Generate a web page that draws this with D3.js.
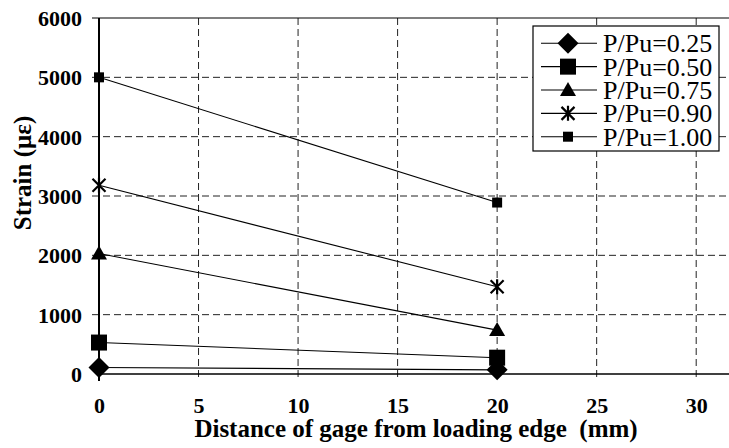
<!DOCTYPE html>
<html>
<head>
<meta charset="utf-8">
<script src="https://cdn.jsdelivr.net/npm/d3@7"></script>
<style>
  html, body { margin: 0; padding: 0; background: #fff; }
  svg { display: block; }
  svg text { font-family: "Liberation Serif", "Times New Roman", serif !important; }
</style>
</head>
<body>
<svg id="chart" width="729" height="448"></svg>
<script>
// Gage distances (mm) and measured strains (microstrain) per load ratio
const distances = [0, 20];
const labels = ["P/Pu=0.25", "P/Pu=0.50", "P/Pu=0.75", "P/Pu=0.90", "P/Pu=1.00"];
const strain025 = [110, 70];
const strain050 = [530, 275];
const strain075 = [2030, 740];
const strain090 = [3180, 1470];
const strain100 = [5000, 2890];
const markerTypes = ["diamond", "square", "triangle", "star", "smallSquare"];
const xTicks = [0, 5, 10, 15, 20, 25, 30];
const yTicks = [0, 1000, 2000, 3000, 4000, 5000, 6000];

const FONT = "Liberation Serif";

const seriesValues = [strain025, strain050, strain075, strain090, strain100];
const series = labels.map((name, i) => ({
  name,
  marker: markerTypes[i],
  points: distances.map((d, j) => ({ x: d, y: seriesValues[i][j] }))
}));

const svg = d3.select("#chart").attr("font-family", FONT);
const plot = { left: 99, top: 18, right: 736, bottom: 374 };

const x = d3.scaleLinear().domain([0, 32]).range([plot.left, plot.right]);
const y = d3.scaleLinear().domain([0, 6000]).range([plot.bottom, plot.top]);

function serif(sel) {
  return sel.attr("font-family", FONT).style("font-family", FONT, "important");
}

// Dashed grid with outside tick extensions
const grid = svg.append("g");
grid.selectAll("line.v").data(xTicks.filter(t => t > 0)).join("line")
  .attr("x1", d => x(d)).attr("x2", d => x(d))
  .attr("y1", plot.top).attr("y2", plot.bottom + 7)
  .attr("stroke", "#222").attr("stroke-width", 1)
  .attr("stroke-dasharray", "7,4");
grid.selectAll("line.h").data(yTicks.filter(t => t > 0 && t < 6000)).join("line")
  .attr("x1", plot.left - 7).attr("x2", 729)
  .attr("y1", d => y(d)).attr("y2", d => y(d))
  .attr("stroke", "#222").attr("stroke-width", 1)
  .attr("stroke-dasharray", "7,4");

// Top border (solid)
svg.append("line")
  .attr("x1", plot.left - 7).attr("x2", 729)
  .attr("y1", y(6000)).attr("y2", y(6000))
  .attr("stroke", "#000").attr("stroke-width", 1.2);

// Axes
const xAxis = d3.axisBottom(x).tickValues(xTicks).tickFormat(d3.format("d")).tickSize(0).tickPadding(0);
const yAxis = d3.axisLeft(y).tickValues(yTicks).tickFormat(d3.format("d")).tickSize(0).tickPadding(0);

const gx = svg.append("g").attr("transform", `translate(0,${plot.bottom})`).call(xAxis)
  .attr("font-family", FONT).attr("font-size", 22);
gx.select(".domain").remove();
serif(gx.selectAll("text"))
  .attr("y", 39).attr("dy", 0)
  .attr("font-size", 22).attr("font-weight", "bold").attr("fill", "#000");

const gy = svg.append("g").attr("transform", `translate(${plot.left},0)`).call(yAxis)
  .attr("font-family", FONT).attr("font-size", 22);
gy.select(".domain").remove();
serif(gy.selectAll("text"))
  .attr("x", -17).attr("dy", "0.34em")
  .attr("font-size", 22).attr("font-weight", "bold").attr("fill", "#000");

// Axis lines
svg.append("line")
  .attr("x1", plot.left).attr("x2", 729)
  .attr("y1", plot.bottom).attr("y2", plot.bottom)
  .attr("stroke", "#000").attr("stroke-width", 1.5);
svg.append("line")
  .attr("x1", plot.left).attr("x2", plot.left)
  .attr("y1", plot.top).attr("y2", plot.bottom + 7)
  .attr("stroke", "#000").attr("stroke-width", 2);

// Axis titles
serif(svg.append("text"))
  .attr("x", 416).attr("y", 437)
  .attr("text-anchor", "middle")
  .attr("font-size", 25).attr("font-weight", "bold")
  .text("Distance of gage from loading edge\u00a0 (mm)");

serif(svg.append("text"))
  .attr("transform", "translate(31,173) rotate(-90)")
  .attr("text-anchor", "middle")
  .attr("font-size", 25).attr("font-weight", "bold")
  .text("Strain (με)");

// Marker drawing
function drawMarker(g, type) {
  switch (type) {
    case "diamond":
      g.append("path").attr("d", "M0,-10.5L10.5,0L0,10.5L-10.5,0Z").attr("fill", "#000");
      break;
    case "square":
      g.append("rect").attr("x", -8).attr("y", -8).attr("width", 16).attr("height", 16).attr("fill", "#000");
      break;
    case "triangle":
      g.append("path").attr("d", "M0,-8L8,6L-8,6Z").attr("fill", "#000");
      break;
    case "star":
      g.append("path").attr("d", "M-6.5,-6.5L6.5,6.5M-6.5,6.5L6.5,-6.5M0,-7.5L0,7.5")
        .attr("stroke", "#000").attr("stroke-width", 2.2).attr("fill", "none");
      break;
    case "smallSquare":
      g.append("rect").attr("x", -5).attr("y", -5).attr("width", 10).attr("height", 10).attr("fill", "#000");
      break;
  }
}

const line = d3.line().x(d => x(d.x)).y(d => y(d.y));

const seriesG = svg.append("g");
seriesG.selectAll("path.series").data(series).join("path")
  .attr("d", d => line(d.points))
  .attr("fill", "none").attr("stroke", "#000").attr("stroke-width", 1.1);

series.forEach(s => {
  s.points.forEach(p => {
    const g = seriesG.append("g").attr("transform", `translate(${x(p.x)},${y(p.y)})`);
    drawMarker(g, s.marker);
  });
});

// Legend
const legend = svg.append("g");
legend.append("rect")
  .attr("x", 533).attr("y", 26).attr("width", 186).attr("height", 125)
  .attr("fill", "#fff").attr("stroke", "#000").attr("stroke-width", 1.2);

series.forEach((s, i) => {
  const cy = 43.3 + i * 23.35;
  legend.append("line")
    .attr("x1", 541).attr("x2", 597).attr("y1", cy).attr("y2", cy)
    .attr("stroke", "#000").attr("stroke-width", 1.1);
  const g = legend.append("g").attr("transform", `translate(568,${cy})`);
  drawMarker(g, s.marker);
  serif(legend.append("text"))
    .attr("x", 603).attr("y", cy + 9)
    .attr("font-size", 26)
    .text(s.name);
});
</script>
</body>
</html>
